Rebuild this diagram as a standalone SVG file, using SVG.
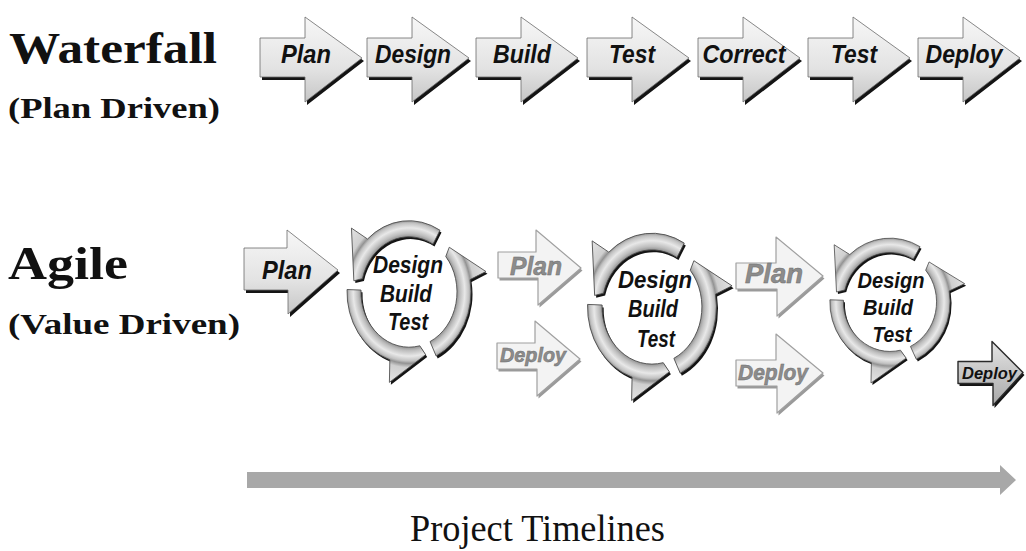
<svg xmlns="http://www.w3.org/2000/svg" xmlns:xlink="http://www.w3.org/1999/xlink" width="1026" height="551" viewBox="0 0 1026 551">
  <defs>
    <style>
      .title { font-family: "Liberation Serif", "Times New Roman", serif; font-weight: bold; fill: #111; }
      .axis { font-family: "Liberation Serif", "Times New Roman", serif; fill: #111; }
      .lbl { font-family: "Liberation Sans", Arial, sans-serif; font-weight: bold; font-style: italic; fill: #111; text-anchor: middle; }
      .shadow { fill: #141414; }
      .face { fill: url(#arrowFill); stroke: #6a6a6a; stroke-width: 0.8; stroke-linejoin: round; }
      .ring { fill: url(#ringFill); stroke: #4a4a4a; stroke-width: 0.8; stroke-linejoin: round; }
      .ghost .shadow { fill: #9a9a9a; }
      .ghost .face { fill: #f3f3f3; stroke: #a0a0a0; stroke-width: 1.2; }
      .ghost .lbl { fill: #8c8c8c; stroke: #6e6e6e; stroke-width: 0.5; }
      .dark .face { fill: url(#darkFill); stroke: #2a2a2a; stroke-width: 1.4; }
    </style>
    <linearGradient id="arrowFill" x1="0" y1="0" x2="0" y2="1">
      <stop offset="0" stop-color="#f7f7f7"/>
      <stop offset="0.6" stop-color="#e3e3e3"/>
      <stop offset="1" stop-color="#c6c6c6"/>
    </linearGradient>
    <linearGradient id="darkFill" x1="0" y1="0" x2="0" y2="1">
      <stop offset="0" stop-color="#e4e4e4"/>
      <stop offset="1" stop-color="#a8a8a8"/>
    </linearGradient>
    <radialGradient id="ringFill" gradientUnits="userSpaceOnUse" cx="0" cy="0" r="82">
      <stop offset="0" stop-color="#c8c8c8"/>
      <stop offset="0.58" stop-color="#8e8e8e"/>
      <stop offset="0.62" stop-color="#bdbdbd"/>
      <stop offset="0.68" stop-color="#e8e8e8"/>
      <stop offset="0.73" stop-color="#c2c2c2"/>
      <stop offset="0.757" stop-color="#939393"/>
      <stop offset="0.8" stop-color="#cfcfcf"/>
      <stop offset="1" stop-color="#e6e6e6"/>
    </radialGradient>

    <!-- block arrow shapes, origin at left end of the shaft, centre line y=0 -->
    <path id="wfArrow" d="M0,-20 H45 V-41 L102,0 L45,44 V19 H0 Z"/>
    <path id="planArrow" d="M0,-21 H43 V-39 L94,1 L44,45 V21 H0 Z"/>
    <path id="ghostA" d="M0,-13 H38 V-35 L83,3 L40,40 V13 H0 Z"/>
    <path id="ghostB" d="M0,-13 H40 V-39 L87,0 L41,40 V13 H0 Z"/>
    <path id="smallArrow" d="M0,-11 H34 V-31 L65,0 L35,33 V11 H0 Z"/>

    <!-- three curved arrows forming a counter-clockwise cycle, centred on 0,0 -->
    <g id="cycleSegs">
      <path d="M31,-53.69 A62,62 0 0 0 -41.49,-46.07 L-57.55,-55.57 L-55.15,-9.72 L-46.57,-11.61 A48,48 0 0 1 24,-41.57 Z"/>
      <path d="M-61.96,-2.16 A62,62 0 0 0 -19.16,58.97 L-19.6,78.59 L16.67,54.51 L10.8,46.77 A48,48 0 0 1 -47.97,-1.68 Z"/>
      <path d="M27.18,55.73 A62,62 0 0 0 61.06,-10.77 L76.98,-17.77 L40.28,-38.9 L36.77,-30.85 A48,48 0 0 1 21.04,43.14 Z"/>
    </g>
  </defs>

  <rect width="1026" height="551" fill="#ffffff"/>

  <!-- row titles -->
  <g id="titles">
    <text class="title" x="9" y="63" font-size="44" textLength="208" lengthAdjust="spacingAndGlyphs">Waterfall</text>
    <text class="title" x="8" y="118" font-size="29" textLength="212" lengthAdjust="spacingAndGlyphs">(Plan Driven)</text>
    <text class="title" x="8" y="279" font-size="46" textLength="120" lengthAdjust="spacingAndGlyphs">Agile</text>
    <text class="title" x="8" y="334" font-size="29" textLength="232" lengthAdjust="spacingAndGlyphs">(Value Driven)</text>
  </g>

  <!-- waterfall sequence -->
  <g id="wf-plan" transform="translate(260,58)">
    <use href="#wfArrow" class="shadow" transform="translate(2,3)"/>
    <use href="#wfArrow" class="face"/>
    <text class="lbl" x="46" y="5" font-size="25" textLength="50" lengthAdjust="spacingAndGlyphs">Plan</text>
  </g>
  <g id="wf-design" transform="translate(367,58)">
    <use href="#wfArrow" class="shadow" transform="translate(2,3)"/>
    <use href="#wfArrow" class="face"/>
    <text class="lbl" x="46" y="5" font-size="25" textLength="76" lengthAdjust="spacingAndGlyphs">Design</text>
  </g>
  <g id="wf-build" transform="translate(476,58)">
    <use href="#wfArrow" class="shadow" transform="translate(2,3)"/>
    <use href="#wfArrow" class="face"/>
    <text class="lbl" x="46" y="5" font-size="25" textLength="58" lengthAdjust="spacingAndGlyphs">Build</text>
  </g>
  <g id="wf-test" transform="translate(587,58)">
    <use href="#wfArrow" class="shadow" transform="translate(2,3)"/>
    <use href="#wfArrow" class="face"/>
    <text class="lbl" x="45" y="5" font-size="25" textLength="46" lengthAdjust="spacingAndGlyphs">Test</text>
  </g>
  <g id="wf-correct" transform="translate(698,58)">
    <use href="#wfArrow" class="shadow" transform="translate(2,3)"/>
    <use href="#wfArrow" class="face"/>
    <text class="lbl" x="46" y="5" font-size="25" textLength="83" lengthAdjust="spacingAndGlyphs">Correct</text>
  </g>
  <g id="wf-test2" transform="translate(808,58)">
    <use href="#wfArrow" class="shadow" transform="translate(2,3)"/>
    <use href="#wfArrow" class="face"/>
    <text class="lbl" x="46" y="5" font-size="25" textLength="46" lengthAdjust="spacingAndGlyphs">Test</text>
  </g>
  <g id="wf-deploy" transform="translate(918,58)">
    <use href="#wfArrow" class="shadow" transform="translate(2,3)"/>
    <use href="#wfArrow" class="face"/>
    <text class="lbl" x="46" y="5" font-size="25" textLength="77" lengthAdjust="spacingAndGlyphs">Deploy</text>
  </g>

  <!-- agile sequence -->
  <g id="ag-plan" transform="translate(244,269)">
    <use href="#planArrow" class="shadow" transform="translate(2,3)"/>
    <use href="#planArrow" class="face"/>
    <text class="lbl" x="43" y="10" font-size="26" textLength="50" lengthAdjust="spacingAndGlyphs">Plan</text>
  </g>

  <g id="ag-cycle1">
    <g transform="translate(409,292) scale(1,1.15)">
      <use href="#cycleSegs" class="shadow" transform="translate(1.5,2)"/>
      <use href="#cycleSegs" class="ring"/>
    </g>
    <text class="lbl" x="408" y="273" font-size="23" textLength="70" lengthAdjust="spacingAndGlyphs">Design</text>
    <text class="lbl" x="406" y="302" font-size="23" textLength="52" lengthAdjust="spacingAndGlyphs">Build</text>
    <text class="lbl" x="408" y="330" font-size="23" textLength="40" lengthAdjust="spacingAndGlyphs">Test</text>
  </g>

  <g id="ag-plan2" class="ghost" transform="translate(498,265)">
    <use href="#ghostA" class="shadow" transform="translate(1.5,2.5)"/>
    <use href="#ghostA" class="face"/>
    <text class="lbl" x="38" y="10" font-size="25" textLength="52" lengthAdjust="spacingAndGlyphs">Plan</text>
  </g>
  <g id="ag-deploy1" class="ghost" transform="translate(497,356)">
    <use href="#ghostA" class="shadow" transform="translate(1.5,2.5)"/>
    <use href="#ghostA" class="face"/>
    <text class="lbl" x="36" y="6" font-size="20" textLength="66" lengthAdjust="spacingAndGlyphs">Deploy</text>
  </g>

  <g id="ag-cycle2">
    <g transform="translate(652,307) scale(1.04,1.19)">
      <use href="#cycleSegs" class="shadow" transform="translate(1.5,2)"/>
      <use href="#cycleSegs" class="ring"/>
    </g>
    <text class="lbl" x="655" y="288" font-size="24" textLength="74" lengthAdjust="spacingAndGlyphs">Design</text>
    <text class="lbl" x="653" y="317" font-size="24" textLength="50" lengthAdjust="spacingAndGlyphs">Build</text>
    <text class="lbl" x="656" y="347" font-size="24" textLength="38" lengthAdjust="spacingAndGlyphs">Test</text>
  </g>

  <g id="ag-plan3" class="ghost" transform="translate(736,276)">
    <use href="#ghostB" class="shadow" transform="translate(1.5,2.5)"/>
    <use href="#ghostB" class="face"/>
    <text class="lbl" x="38" y="7" font-size="27" textLength="58" lengthAdjust="spacingAndGlyphs">Plan</text>
  </g>
  <g id="ag-deploy2" class="ghost" transform="translate(736,373)">
    <use href="#ghostB" class="shadow" transform="translate(1.5,2.5)"/>
    <use href="#ghostB" class="face"/>
    <text class="lbl" x="37" y="7" font-size="22" textLength="70" lengthAdjust="spacingAndGlyphs">Deploy</text>
  </g>

  <g id="ag-cycle3">
    <g transform="translate(890,302) scale(0.97,1.03)">
      <use href="#cycleSegs" class="shadow" transform="translate(1.5,2)"/>
      <use href="#cycleSegs" class="ring"/>
    </g>
    <text class="lbl" x="891" y="288" font-size="22" textLength="67" lengthAdjust="spacingAndGlyphs">Design</text>
    <text class="lbl" x="888" y="315" font-size="22" textLength="50" lengthAdjust="spacingAndGlyphs">Build</text>
    <text class="lbl" x="892" y="342" font-size="22" textLength="39" lengthAdjust="spacingAndGlyphs">Test</text>
  </g>

  <g id="ag-deploy3" class="dark" transform="translate(958,372.5)">
    <use href="#smallArrow" class="shadow" transform="translate(1.5,2.5)"/>
    <use href="#smallArrow" class="face"/>
    <text class="lbl" x="31.5" y="6.5" font-size="17" textLength="55" lengthAdjust="spacingAndGlyphs">Deploy</text>
  </g>

  <!-- time axis -->
  <g id="connectors">
    <path id="timeline" d="M247,472 H1000 V465 L1016,480 L1000,495 V488 H247 Z" fill="#a8a8a8"/>
  </g>
  <text class="axis" x="410" y="541" font-size="37" textLength="255" lengthAdjust="spacingAndGlyphs">Project Timelines</text>
</svg>
